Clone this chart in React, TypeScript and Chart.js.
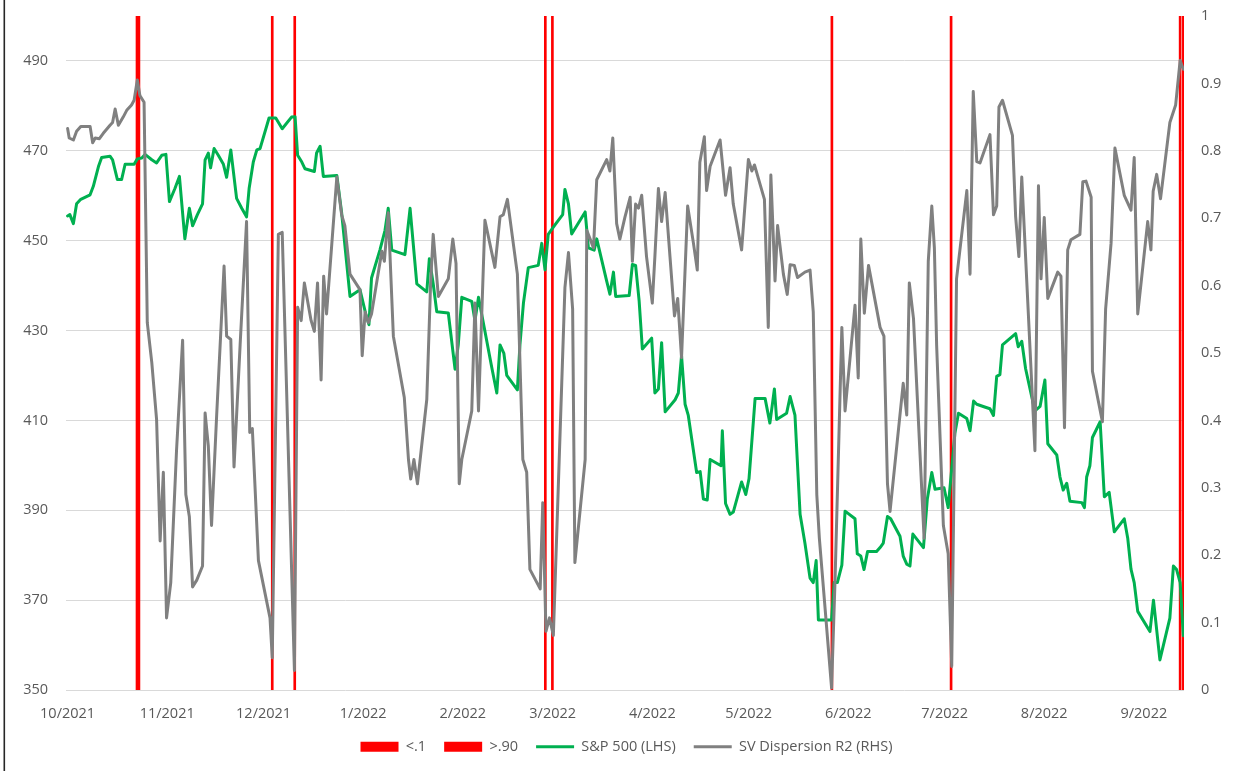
import React, { useEffect, useRef } from "react";
import { Chart, registerables } from "chart.js";

Chart.register(...registerables);

// x positions are days counted from 10/1/2021
const monthTickDays = [0, 31, 61, 92, 123, 151, 182, 212, 243, 273, 304, 335];
const monthTickLabels = ["10/2021", "11/2021", "12/2021", "1/2022", "2/2022", "3/2022", "4/2022", "5/2022", "6/2022", "7/2022", "8/2022", "9/2022"];
const leftTicks = [350, 370, 390, 410, 430, 450, 470, 490];
const rightTicks = [0, 0.1, 0.2, 0.3, 0.4, 0.5, 0.6, 0.7, 0.8, 0.9, 1];

const spDays = [0, 0.7, 1.8, 2.8, 4.1, 7.0, 8.0, 9.6, 10.6, 13.2, 14.0, 15.5, 16.8, 17.9, 20.7, 21.7, 23.1, 24.1, 26.2, 27.7, 29.3, 30.6, 31.7, 33.4, 34.8, 36.5, 37.9, 38.9, 40.4, 42.0, 42.8, 43.8, 44.5, 45.6, 46.9, 48.5, 49.5, 50.8, 52.6, 54.2, 55.7, 56.5, 57.8, 58.9, 59.9, 62.7, 64.8, 66.8, 69.7, 70.8, 71.6, 72.9, 73.9, 76.8, 77.5, 78.6, 79.6, 83.8, 85.3, 87.9, 91.0, 92.8, 93.8, 94.6, 97.2, 98.8, 99.8, 100.9, 105.0, 106.6, 108.7, 111.8, 112.6, 113.8, 114.9, 118.5, 120.6, 121.6, 122.7, 125.8, 126.8, 127.9, 132.0, 133.6, 134.6, 135.8, 136.7, 140.0, 140.8, 141.9, 143.4, 146.5, 147.6, 148.6, 149.6, 151.7, 154.1, 154.8, 155.9, 156.9, 161.1, 162.1, 163.9, 164.7, 167.8, 168.8, 169.9, 170.6, 174.8, 175.8, 176.8, 177.9, 178.9, 181.8, 182.8, 183.9, 184.9, 186.0, 189.1, 190.1, 191.1, 192.2, 193.2, 195.8, 196.9, 197.9, 199.1, 200.0, 203.4, 203.8, 204.8, 206.2, 207.2, 209.8, 211.1, 212.1, 214.0, 217.1, 218.6, 220.0, 220.7, 223.8, 224.9, 226.4, 228.0, 229.5, 231.1, 232.1, 233.0, 233.7, 237.8, 238.6, 239.6, 241.0, 242.0, 245.1, 245.8, 246.9, 247.9, 249.0, 251.8, 252.9, 253.9, 255.2, 256.2, 259.1, 260.1, 261.2, 262.2, 263.1, 266.4, 267.6, 269.0, 270.0, 272.8, 274.1, 276.2, 277.3, 279.9, 280.9, 282.0, 283.0, 285.0, 287.1, 288.2, 289.2, 290.2, 291.0, 295.1, 295.9, 297.0, 298.2, 300.1, 301.1, 302.7, 304.2, 305.1, 307.9, 308.9, 309.9, 311.0, 312.0, 315.7, 316.5, 317.2, 318.2, 319.0, 321.4, 322.7, 324.2, 325.8, 328.9, 330.0, 331.0, 332.0, 333.1, 336.9, 338.0, 340.0, 343.1, 344.2, 345.2, 346.3, 347.3];
const spValues = [455.5, 455.8, 453.8, 458.2, 459.2, 460.2, 462.1, 466.5, 468.5, 468.8, 468.0, 463.6, 463.6, 467.0, 467.0, 468.2, 468.4, 469.2, 468.0, 467.3, 469.0, 469.2, 458.7, 461.6, 464.3, 450.4, 457.2, 453.3, 455.8, 458.2, 468.0, 469.5, 466.2, 470.5, 469.0, 467.0, 464.1, 470.2, 459.4, 457.2, 455.3, 461.6, 467.5, 470.2, 470.5, 477.3, 477.3, 474.9, 477.5, 477.6, 469.0, 467.5, 466.0, 465.4, 469.5, 471.0, 464.3, 464.5, 456.2, 437.6, 439.1, 433.7, 431.3, 441.7, 447.9, 452.3, 457.2, 447.9, 446.9, 457.2, 440.4, 438.6, 446.0, 440.4, 434.2, 433.9, 421.4, 426.8, 437.4, 436.5, 432.2, 437.4, 421.9, 416.1, 426.8, 424.9, 420.0, 416.8, 426.8, 436.2, 444.0, 444.5, 449.4, 443.5, 451.4, 453.5, 455.8, 461.4, 458.2, 451.5, 456.4, 448.4, 447.9, 450.4, 441.0, 438.1, 443.0, 437.6, 437.8, 444.7, 444.5, 436.6, 425.9, 428.3, 416.1, 417.0, 427.3, 411.9, 414.6, 416.1, 424.4, 413.6, 411.1, 398.4, 398.6, 392.5, 392.3, 401.3, 399.9, 407.7, 391.5, 389.1, 389.6, 396.3, 393.5, 397.0, 414.9, 414.9, 409.4, 417.0, 410.2, 411.6, 415.3, 411.2, 389.1, 382.7, 374.9, 373.9, 378.8, 365.6, 365.6, 373.9, 373.9, 377.8, 389.8, 388.1, 380.3, 379.8, 376.8, 380.8, 380.8, 381.7, 382.7, 388.6, 388.1, 384.2, 379.8, 378.0, 377.6, 384.7, 381.7, 392.5, 398.4, 394.7, 395.0, 390.6, 407.2, 411.6, 410.4, 407.7, 414.3, 413.6, 413.1, 412.6, 411.1, 419.8, 420.2, 426.8, 429.3, 426.4, 427.6, 421.5, 415.3, 412.1, 413.1, 419.0, 404.8, 402.3, 397.4, 394.5, 396.0, 392.0, 391.7, 390.6, 397.4, 399.9, 406.2, 409.7, 393.0, 394.0, 385.2, 388.1, 383.7, 376.9, 373.9, 367.5, 363.0, 370.0, 356.7, 366.0, 377.6, 376.8, 373.9, 362.1];

const dispDays = [0, 0.5, 1.8, 2.8, 4.1, 7.0, 7.8, 8.6, 9.9, 11.1, 13.2, 14.0, 14.8, 15.8, 17.3, 18.4, 19.9, 20.7, 21.7, 22.5, 23.8, 24.8, 26.2, 27.7, 28.8, 29.8, 30.8, 32.1, 33.9, 35.8, 36.8, 37.9, 38.9, 40.2, 42.0, 42.8, 43.8, 44.8, 46.4, 48.7, 49.5, 50.8, 51.8, 53.7, 55.7, 56.7, 57.5, 59.4, 63.0, 63.7, 65.6, 66.8, 70.6, 71.6, 72.7, 73.7, 75.8, 76.8, 77.8, 78.9, 79.7, 80.6, 83.8, 85.3, 86.3, 87.9, 91.0, 91.7, 92.6, 93.6, 94.6, 97.8, 98.6, 99.8, 101.4, 104.8, 106.1, 106.8, 107.8, 108.9, 111.8, 113.0, 113.8, 115.4, 118.5, 119.9, 120.9, 121.9, 122.7, 125.8, 126.8, 127.9, 129.9, 133.0, 134.6, 135.6, 136.9, 140.0, 141.7, 142.9, 143.9, 147.1, 147.9, 148.9, 150.0, 151.2, 154.8, 155.9, 157.2, 157.9, 161.1, 161.6, 163.7, 164.7, 167.8, 168.8, 169.7, 170.9, 171.9, 173.5, 175.1, 175.8, 176.8, 177.7, 178.7, 180.2, 182.0, 182.8, 183.9, 184.9, 186.0, 187.5, 188.9, 189.9, 191.1, 193.0, 194.8, 196.0, 196.8, 198.2, 198.9, 200.0, 203.1, 204.8, 206.2, 207.2, 209.8, 211.9, 213.0, 213.8, 216.9, 218.1, 218.9, 220.2, 221.0, 222.8, 224.0, 224.9, 226.2, 227.2, 229.5, 231.1, 232.1, 233.2, 234.0, 237.8, 238.9, 241.0, 242.0, 245.1, 246.1, 246.9, 248.0, 249.3, 252.9, 254.1, 255.2, 256.0, 260.1, 261.2, 262.0, 263.3, 266.6, 267.9, 269.0, 269.8, 270.5, 272.6, 274.1, 275.2, 276.7, 279.9, 280.9, 281.9, 283.0, 284.0, 287.1, 288.2, 289.2, 289.9, 291.0, 294.1, 295.1, 296.1, 297.0, 301.1, 302.2, 303.0, 304.0, 305.1, 308.2, 309.2, 310.3, 311.3, 312.3, 315.1, 316.0, 317.0, 318.6, 319.0, 322.1, 323.1, 324.8, 326.0, 328.9, 331.0, 332.0, 333.1, 336.2, 337.2, 337.9, 339.0, 340.2, 343.1, 344.9, 346.3, 347.3];
const dispValues = [0.833, 0.819, 0.816, 0.829, 0.836, 0.836, 0.812, 0.819, 0.818, 0.826, 0.838, 0.842, 0.862, 0.838, 0.850, 0.860, 0.868, 0.875, 0.905, 0.882, 0.872, 0.545, 0.486, 0.401, 0.221, 0.323, 0.107, 0.159, 0.355, 0.519, 0.290, 0.257, 0.153, 0.163, 0.184, 0.411, 0.362, 0.244, 0.408, 0.629, 0.525, 0.520, 0.331, 0.512, 0.695, 0.382, 0.388, 0.192, 0.107, 0.048, 0.676, 0.679, 0.029, 0.568, 0.548, 0.604, 0.548, 0.532, 0.604, 0.460, 0.614, 0.558, 0.761, 0.705, 0.689, 0.617, 0.594, 0.496, 0.561, 0.545, 0.558, 0.651, 0.636, 0.708, 0.525, 0.434, 0.342, 0.313, 0.342, 0.306, 0.431, 0.604, 0.676, 0.584, 0.610, 0.669, 0.633, 0.306, 0.342, 0.414, 0.574, 0.414, 0.697, 0.627, 0.702, 0.705, 0.728, 0.617, 0.342, 0.323, 0.179, 0.150, 0.278, 0.087, 0.107, 0.081, 0.597, 0.649, 0.565, 0.189, 0.342, 0.682, 0.656, 0.757, 0.787, 0.770, 0.819, 0.692, 0.669, 0.702, 0.731, 0.636, 0.721, 0.715, 0.734, 0.643, 0.574, 0.643, 0.744, 0.695, 0.738, 0.643, 0.555, 0.581, 0.493, 0.718, 0.663, 0.623, 0.783, 0.821, 0.741, 0.777, 0.816, 0.734, 0.775, 0.721, 0.653, 0.787, 0.770, 0.779, 0.728, 0.538, 0.764, 0.607, 0.689, 0.617, 0.587, 0.631, 0.630, 0.612, 0.620, 0.623, 0.561, 0.290, 0.225, 0.003, 0.166, 0.538, 0.414, 0.571, 0.463, 0.669, 0.559, 0.630, 0.538, 0.525, 0.306, 0.265, 0.455, 0.408, 0.604, 0.551, 0.225, 0.636, 0.718, 0.656, 0.512, 0.244, 0.202, 0.035, 0.610, 0.741, 0.617, 0.888, 0.784, 0.782, 0.824, 0.705, 0.718, 0.865, 0.875, 0.823, 0.702, 0.643, 0.761, 0.355, 0.748, 0.610, 0.701, 0.581, 0.620, 0.614, 0.389, 0.653, 0.668, 0.676, 0.754, 0.755, 0.731, 0.473, 0.398, 0.565, 0.663, 0.804, 0.734, 0.712, 0.790, 0.558, 0.695, 0.653, 0.740, 0.765, 0.729, 0.842, 0.868, 0.934, 0.921];

const lowDays = [63.7, 70.7, 148.7, 150.9, 237.9, 275.0];
const highDays = [21.6, 22.2, 346.3, 347.3];

const seriesLabels = ["<.1", ">.90", "S&P 500 (LHS)", "SV Dispersion R2 (RHS)"];

const TEXT = "#595959";
const FONT = { family: "'Open Sans', sans-serif", size: 14.5 };

export default function App() {
  const canvasRef = useRef<HTMLCanvasElement | null>(null);

  useEffect(() => {
    const canvas = canvasRef.current;
    if (!canvas) return;

    const bgPlugin = {
      id: "bg",
      beforeDraw(chart: any) {
        const ctx = chart.ctx;
        ctx.save();
        ctx.fillStyle = "#ffffff";
        ctx.fillRect(0, 0, chart.width, chart.height);
        ctx.restore();
      },
      afterDraw(chart: any) {
        const ctx = chart.ctx;
        ctx.save();
        ctx.fillStyle = "#262626";
        ctx.fillRect(3.5, 0, 1.6, chart.height);
        ctx.restore();
      },
    };

    const chart = new Chart(canvas, {
      type: "line",
      data: {
        datasets: [
          {
            type: "bar",
            label: seriesLabels[0],
            data: lowDays.map((d) => ({ x: d, y: 1 })),
            backgroundColor: "#FF0000",
            borderWidth: 0,
            barThickness: 2,
            grouped: false,
            xAxisID: "x",
            yAxisID: "y2",
            order: 3,
          } as any,
          {
            type: "bar",
            label: seriesLabels[1],
            data: highDays.map((d) => ({ x: d, y: 1 })),
            backgroundColor: "#FF0000",
            borderWidth: 0,
            barThickness: 2,
            grouped: false,
            xAxisID: "x",
            yAxisID: "y2",
            order: 2,
          } as any,
          {
            type: "line",
            label: seriesLabels[2],
            data: spDays.map((d, i) => ({ x: d, y: spValues[i] })),
            borderColor: "#00B050",
            backgroundColor: "#00B050",
            borderWidth: 3,
            pointRadius: 0,
            tension: 0,
            borderJoinStyle: "round",
            borderCapStyle: "round",
            xAxisID: "x",
            yAxisID: "y",
            order: 1,
          },
          {
            type: "line",
            label: seriesLabels[3],
            data: dispDays.map((d, i) => ({ x: d, y: dispValues[i] })),
            borderColor: "#808080",
            backgroundColor: "#808080",
            borderWidth: 3,
            pointRadius: 0,
            tension: 0,
            borderJoinStyle: "round",
            borderCapStyle: "round",
            xAxisID: "x",
            yAxisID: "y2",
            order: 0,
          },
        ],
      },
      options: {
        animation: false,
        responsive: false,
        devicePixelRatio: 1,
        events: [],
        layout: { padding: { top: 16, bottom: 7, left: 8, right: 0 } },
        plugins: {
          tooltip: { enabled: false },
          legend: {
            position: "bottom",
            labels: {
              usePointStyle: true,
              pointStyleWidth: 38,
              boxHeight: 10,
              padding: 18,
              color: TEXT,
              font: FONT,
              generateLabels: (c: any) =>
                c.data.datasets.map((ds: any, i: number) => ({
                  text: ds.label,
                  fillStyle: ds.backgroundColor,
                  strokeStyle: ds.type === "line" ? ds.borderColor : ds.backgroundColor,
                  lineWidth: ds.type === "line" ? 3 : 0,
                  pointStyle: ds.type === "line" ? "line" : "rect",
                  hidden: false,
                  fontColor: TEXT,
                  datasetIndex: i,
                })),
            },
          },
        },
        scales: {
          x: {
            type: "linear",
            min: -0.5,
            max: 347.5,
            offset: false,
            grid: { display: false, drawTicks: false },
            border: { display: false },
            ticks: {
              autoSkip: false,
              maxRotation: 0,
              padding: 15,
              color: TEXT,
              font: FONT,
              callback: (v: any) => {
                const i = monthTickDays.indexOf(Number(v));
                return i >= 0 ? monthTickLabels[i] : "";
              },
            },
            afterBuildTicks: (s: any) => {
              s.ticks = monthTickDays.map((v) => ({ value: v }));
            },
            afterFit: (s: any) => {
              s.height = 31.5;
            },
          },
          y: {
            type: "linear",
            position: "left",
            min: 350,
            max: 500,
            grid: { color: "#D9D9D9", lineWidth: 1, drawTicks: false },
            border: { display: false },
            ticks: { padding: 18, color: TEXT, font: FONT },
            afterBuildTicks: (s: any) => {
              s.ticks = leftTicks.map((v) => ({ value: v }));
            },
            afterFit: (s: any) => {
              s.width = 58;
              s.paddingTop = 0;
              s.paddingBottom = 0;
            },
          },
          y2: {
            type: "linear",
            position: "right",
            min: 0,
            max: 1,
            grid: { display: false, drawTicks: false },
            border: { display: false },
            ticks: {
              padding: 17,
              color: TEXT,
              font: FONT,
              callback: (v: any) => String(Number(Number(v).toFixed(1))),
            },
            afterBuildTicks: (s: any) => {
              s.ticks = rightTicks.map((v) => ({ value: v }));
            },
            afterFit: (s: any) => {
              s.width = 61;
              s.paddingTop = 0;
              s.paddingBottom = 0;
            },
          },
        },
      } as any,
      plugins: [bgPlugin],
    });

    return () => chart.destroy();
  }, []);

  return (
    <div style={{ position: "absolute", left: 0, top: 0, width: 1245, height: 771, background: "#fff" }}>
      <canvas ref={canvasRef} width={1245} height={771} style={{ width: 1245, height: 771, display: "block" }} />
    </div>
  );
}
